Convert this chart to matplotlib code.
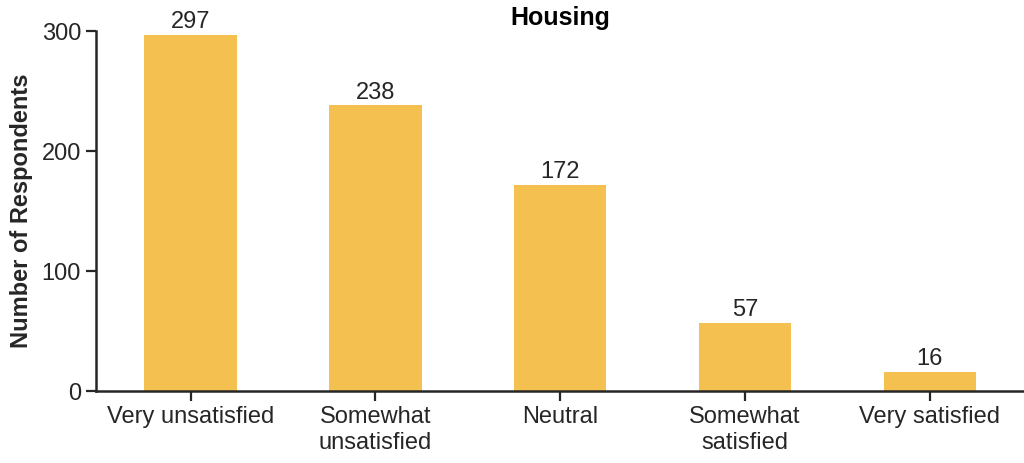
import matplotlib.pyplot as plt
import numpy as np

# Data
categories = ['Very unsatisfied', 'Somewhat\nunsatisfied', 'Neutral', 'Somewhat\nsatisfied', 'Very satisfied']
counts = [297, 238, 172, 57, 16]

plt.rcParams['font.family'] = ['Liberation Sans', 'DejaVu Sans']
text_color = '#262626'

fig = plt.figure(figsize=(10.24, 4.63), dpi=100)
ax = fig.add_axes([0.094, 0.1555, 0.906, 0.7775])

x = np.arange(len(categories))
bars = ax.bar(x, counts, width=0.5, color='#F4C150')

for rect, val in zip(bars, counts):
    ax.text(rect.get_x() + rect.get_width() / 2, val + 1.5, str(val),
            ha='center', va='bottom', fontsize=17, color=text_color)

ax.set_xlim(-0.51, 4.51)
ax.set_ylim(0, 300)
ax.set_yticks([0, 100, 200, 300])
ax.set_xticks(x)
ax.set_xticklabels(categories, fontsize=17, color=text_color)
ax.tick_params(axis='y', labelsize=17, labelcolor=text_color)
ax.tick_params(length=7, width=1.6, color=text_color, direction='out', pad=4)

for side in ['top', 'right']:
    ax.spines[side].set_visible(False)
for side in ['left', 'bottom']:
    ax.spines[side].set_linewidth(1.8)
    ax.spines[side].set_color(text_color)

ax.set_ylabel('Number of Respondents', fontsize=17, fontweight='bold', color=text_color, labelpad=6)
ax.set_title('Housing', fontsize=18, fontweight='bold', color='black', pad=4)

fig.savefig('out.png', dpi=100)
